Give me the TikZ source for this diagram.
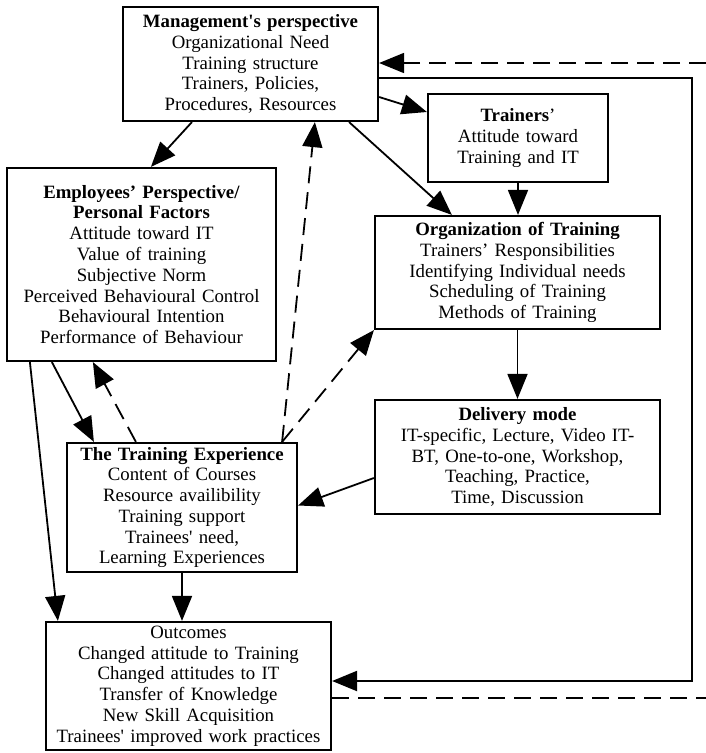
\documentclass[tikz,border=0pt]{standalone}
\usepackage{fontspec}
\setmainfont{Liberation Serif}[Ligatures=TeXOff]
\usepackage{tikz}
\usetikzlibrary{arrows.meta, positioning, calc}
\tikzset{
  >={Triangle[length=25pt,width=20pt]},
  flow/.style={-{Triangle[length=25pt,width=20pt]}, line width=1.8pt, draw=black},
  dashedflow/.style={-{Triangle[length=25pt,width=20pt]}, line width=1.8pt,
                     dash pattern=on 17pt off 9pt},
  dashedline/.style={line width=1.8pt, dash pattern=on 17pt off 9pt},
  loopline/.style={line width=2.2pt},
  factorbox/.style={draw, line width=2.2pt, align=center, inner sep=0pt},
}

\begin{document}
\begin{tikzpicture}[x=1pt, y=-1pt, font=\fontsize{18.8}{20.8}\selectfont]
\useasboundingbox (0,0) rectangle (706,753);

% ---- boxes ----
\node[factorbox, text width=255pt, minimum height=114pt] (mgmt) at (250.5,64)
   {\textbf{Management's perspective}\\Organizational Need\\Training structure\\
    Trainers, Policies,\\Procedures, Resources};
\node[factorbox, text width=180pt, minimum height=88pt] (trainers) at (518,138)
   {\textbf{Trainers}’\\Attitude toward\\Training and IT};
\node[factorbox, text width=269pt, minimum height=193pt] (employees) at (141.5,264.5)
   {\textbf{Employees’ Perspective/}\\\textbf{Personal Factors}\\Attitude toward IT\\
    Value of training\\Subjective Norm\\Perceived Behavioural Control\\
    Behavioural Intention\\Performance of Behaviour};
\node[factorbox, text width=285pt, minimum height=113pt] (organization) at (517.5,272.5)
   {\textbf{Organization of Training}\\Trainers’ Responsibilities\\
    Identifying Individual needs\\Scheduling of Training\\Methods of Training};
\node[factorbox, text width=285pt, minimum height=114pt] (delivery) at (517.5,457)
   {\textbf{Delivery mode}\\IT-specific, Lecture, Video IT-\\BT, One-to-one, Workshop,\\
    Teaching, Practice,\\Time, Discussion};
\node[factorbox, text width=230pt, minimum height=129pt] (experience) at (182,507.5)
   {\textbf{The Training Experience}\\Content of Courses\\Resource availibility\\
    Training support\\Trainees' need,\\Learning Experiences};
\node[factorbox, text width=285pt, minimum height=128pt] (outcomes) at (188.5,686)
   {Outcomes\\Changed attitude to Training\\Changed attitudes to IT\\
    Transfer of Knowledge\\New Skill Acquisition\\Trainees' improved work practices};

% ---- solid links ----
\draw[flow] ($(mgmt.south west)+(70,0)$) -- ($(employees.north west)+(145,0)$);
\draw[flow] ($(mgmt.east)+(0,33)$) -- ($(trainers.west)+(0,-26)$);
\draw[flow] ($(mgmt.south east)+(-30,0)$) -- ($(organization.north west)+(78,0)$);
\draw[flow] (trainers.south) -- (trainers.south |- organization.north);
\draw[flow] (organization.south) -- (delivery.north);
\draw[flow] ($(delivery.west)+(0,21)$) -- ($(experience.east)+(0,-2)$);
\draw[flow] ($(employees.south west)+(46,0)$) -- ($(experience.north west)+(28,0)$);
\draw[flow] ($(employees.south west)+(24,0)$) -- ($(outcomes.north west)+(13,0)$);
\draw[flow] (experience.south) -- (experience.south |- outcomes.north);

% ---- dashed feedback from the training experience ----
\coordinate (expfork) at ($(experience.north east)+(-16,0)$);
\draw[dashedflow] ($(experience.north west)+(70,0)$) -- ($(employees.south west)+(87,0)$);
\draw[dashedflow] (expfork) -- ($(mgmt.south west)+(193,0)$);
\draw[dashedflow] (expfork) -- (organization.south west);

% ---- outer loop (right side) ----
\coordinate (loopNE) at (692,78);
\coordinate (loopSE) at (692,681);
\draw[loopline, -{Triangle[length=25pt,width=20pt]}]
   ($(mgmt.east)+(0,14)$) -- (loopNE) -- (loopSE) -- (loopSE -| outcomes.east);
\coordinate (edgeS) at (706,698);
\coordinate (edgeN) at (706,63);
\draw[dashedline] ($(outcomes.east)+(0,12)$) -- (edgeS);
\draw[dashedflow] (edgeN) -- ($(mgmt.east)+(0,-1)$);

\end{tikzpicture}
\end{document}
